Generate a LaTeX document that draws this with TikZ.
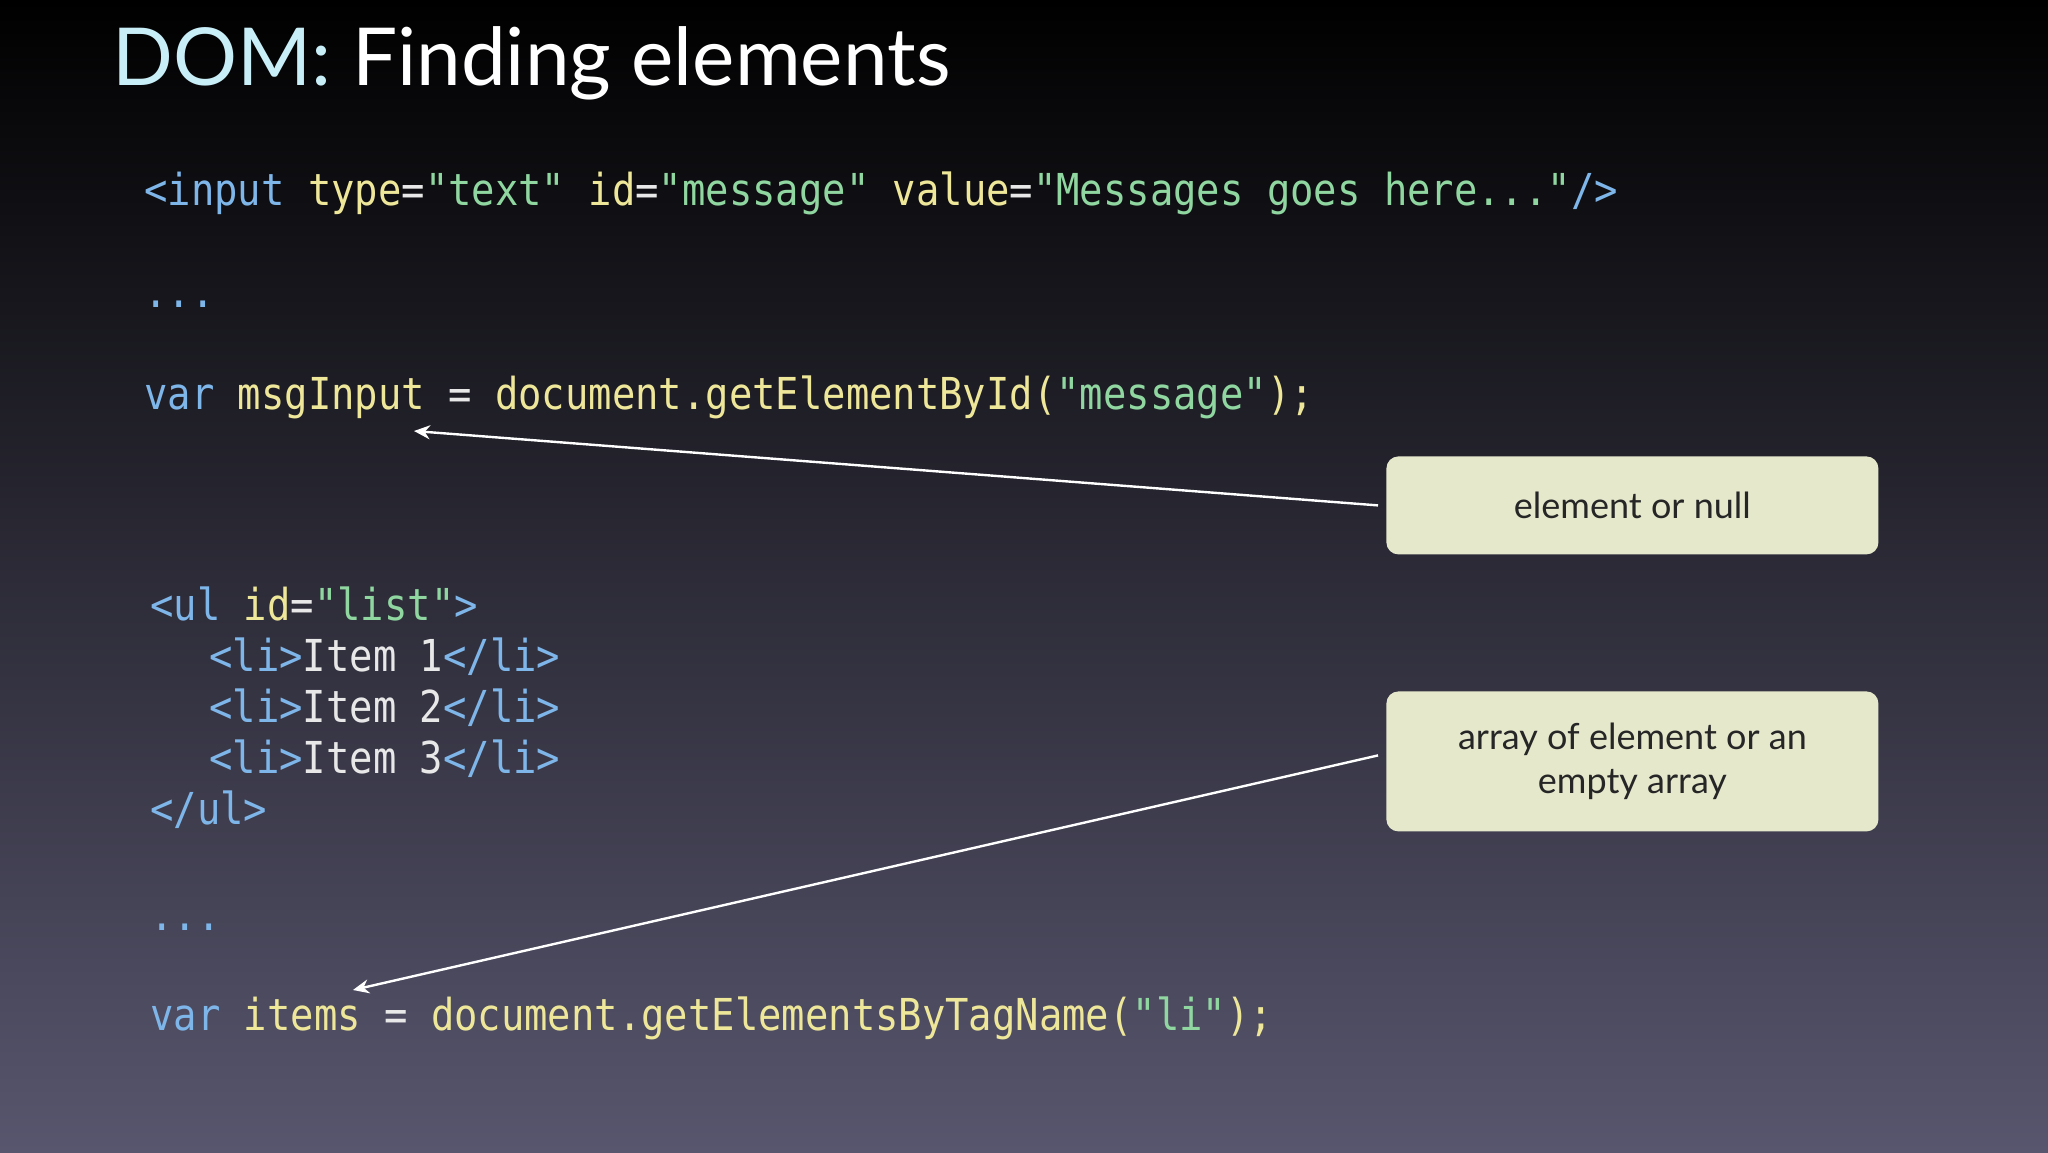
\documentclass[tikz,border=0pt]{standalone}
\usepackage{fontspec}
\setmainfont{Lato}
\setmonofont{DejaVu Sans Mono}
\usetikzlibrary{arrows.meta}
\definecolor{kw}{HTML}{7FB6EA}
\definecolor{yl}{HTML}{EEE79A}
\definecolor{gr}{HTML}{8FD6A0}
\definecolor{tx}{HTML}{E8E8E8}
\definecolor{boxf}{HTML}{E6E8CC}
\definecolor{ttl}{HTML}{C8EEF8}
\tikzset{
 code/.style={anchor=base west, inner sep=0pt, font=\ttfamily\fontsize{22}{26}\selectfont, xscale=0.883, text=tx},
 callout/.style={fill=boxf, rounded corners=6pt, draw=none, text=black!85, font=\fontsize{18}{22}\selectfont, align=center, minimum width=246pt, anchor=north west},
 arr/.style={draw=white, line width=1.2pt, -{Stealth[length=8pt,width=7pt]}}
}
\newcommand{\K}[1]{\textcolor{kw}{#1}}
\newcommand{\Y}[1]{\textcolor{yl}{#1}}
\newcommand{\G}[1]{\textcolor{gr}{#1}}
\begin{document}
\begin{tikzpicture}[x=0.5pt,y=-0.5pt]
\shade[top color=black, bottom color=black!10!white!0!black, middle color=black!80!white] (0,0) rectangle (2048,1152);
\shade[top color=black, bottom color={rgb,255:red,88;green,86;blue,110}] (0,0) rectangle (2048,1152);
\useasboundingbox (0,0) rectangle (2048,1152);
\node[anchor=base west, inner sep=0pt, font=\fontsize{40}{46}\selectfont] (title) at (112,85) {\textcolor{ttl}{DOM:} \textcolor{white}{Finding elements}};
\node[code] (l1) at (144,205) {\K{<input} \Y{type}=\G{"text"} \Y{id}=\G{"message"} \Y{value}=\G{"Messages goes here..."}\K{/>}};
\node[code] (l2) at (144,307) {\K{...}};
\node[code] (l3) at (144,409) {\K{var} \Y{msgInput} = \Y{document.getElementById(}\G{"message"}\Y{);}};
\node[code] (l4) at (150,620) {\K{<ul} \Y{id}=\G{"list"}\K{>}};
\node[code] (l5) at (209,671) {\K{<li>}Item 1\K{</li>}};
\node[code] (l6) at (209,722) {\K{<li>}Item 2\K{</li>}};
\node[code] (l7) at (209,773) {\K{<li>}Item 3\K{</li>}};
\node[code] (l8) at (150,824) {\K{</ul>}};
\node[code] (l9) at (150,930) {\K{...}};
\node[code] (l10) at (150,1030) {\K{var} \Y{items} = \Y{document.getElementsByTagName(}\G{"li"}\Y{);}};
\node[callout, minimum height=49pt] (b1) at (1386,456) {element or null};
\node[callout, minimum height=70pt] (b2) at (1386,691) {array of element or an\\empty array};
\coordinate (t1) at (414,431);
\coordinate (t2) at (353,990);
\draw[arr] ([xshift=-4pt]b1.west) -- (t1);
\draw[arr] ([xshift=-4pt,yshift=3pt]b2.west) -- (t2);
\end{tikzpicture}
\end{document}
